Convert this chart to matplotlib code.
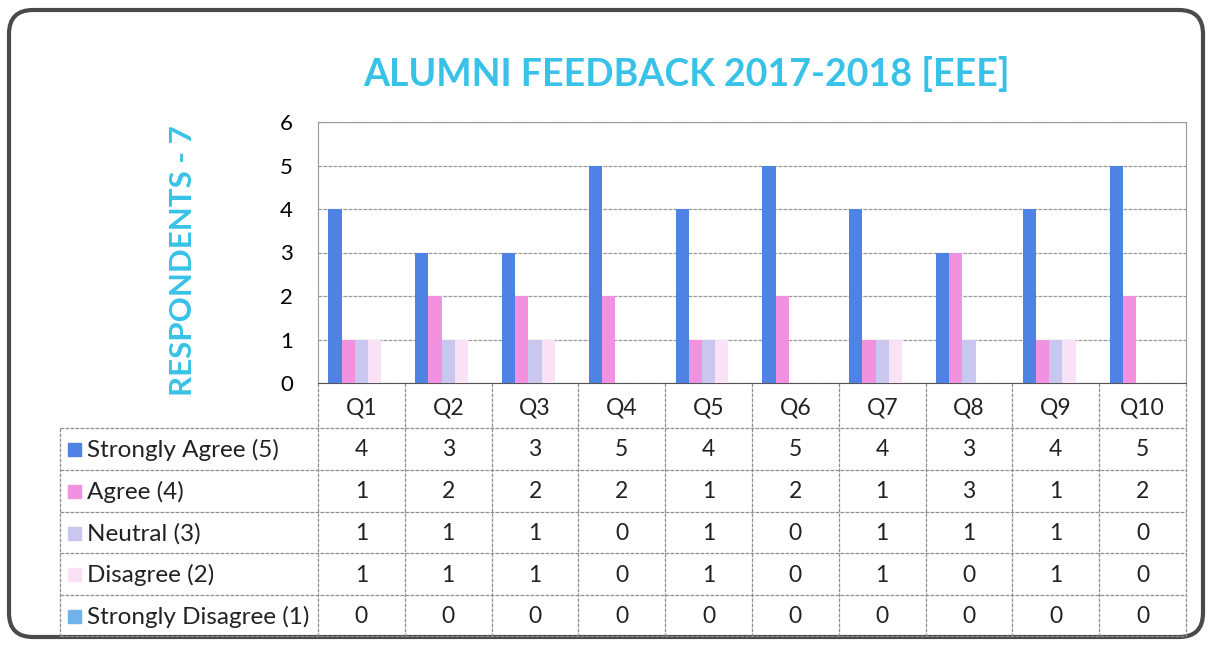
import matplotlib.pyplot as plt
from matplotlib.patches import FancyBboxPatch, Rectangle

plt.rcParams['font.family'] = ['Lato', 'DejaVu Sans']

questions = ['Q1', 'Q2', 'Q3', 'Q4', 'Q5', 'Q6', 'Q7', 'Q8', 'Q9', 'Q10']
series = ['Strongly Agree (5)', 'Agree (4)', 'Neutral (3)',
          'Disagree (2)', 'Strongly Disagree (1)']
strongly_agree = [4, 3, 3, 5, 4, 5, 4, 3, 4, 5]
agree = [1, 2, 2, 2, 1, 2, 1, 3, 1, 2]
neutral = [1, 1, 1, 0, 1, 0, 1, 1, 1, 0]
disagree = [1, 1, 1, 0, 1, 0, 1, 0, 1, 0]
strongly_disagree = [0, 0, 0, 0, 0, 0, 0, 0, 0, 0]
values = [strongly_agree, agree, neutral, disagree, strongly_disagree]
colors = ['#4f83e3', '#f291e0', '#c9c6f0', '#fae2f6', '#6fb2ec']

W, H = 1210, 645
fig = plt.figure(figsize=(W / 100, H / 100), dpi=100)

# overlay in pixel coordinates for frame, title and table
ov = fig.add_axes([0, 0, 1, 1])
ov.set_xlim(0, W)
ov.set_ylim(H, 0)
ov.axis('off')

ov.add_patch(FancyBboxPatch((9, 10), W - 16, H - 18,
                            boxstyle='round,pad=0,rounding_size=24',
                            fc='white', ec='#4a4a4a', lw=3))

cyan = '#38c2e8'
ov.text(687, 74, 'ALUMNI FEEDBACK 2017-2018 [EEE]', ha='center', va='center',
        fontsize=27, fontweight='bold', color=cyan)
ov.text(183, 261, 'RESPONDENTS - 7', ha='center', va='center', rotation=90,
        fontsize=22.5, fontweight='bold', color=cyan)

# chart
x0, x1, ytop, ybot = 318, 1186, 122, 383
ax = fig.add_axes([x0 / W, 1 - ybot / H, (x1 - x0) / W, (ybot - ytop) / H])
n = len(series)
bw = 0.152
for i, (vals, c) in enumerate(zip(values, colors)):
    pos = [q + (i - (n - 1) / 2) * bw for q in range(len(questions))]
    ax.bar(pos, vals, width=bw, color=c, zorder=3)
ax.set_xlim(-0.5, len(questions) - 0.5)
ax.set_ylim(0, 6)
ax.set_yticks(range(7))
ax.set_xticks([])
ax.tick_params(axis='y', length=0, labelsize=16, pad=18)
ax.grid(axis='y', color='#9a9a9a', lw=0.9, ls=(0, (3, 1)), zorder=0)
for s in ax.spines.values():
    s.set_color('#9a9a9a')
    s.set_linestyle((0, (3, 1)))
ax.spines['bottom'].set_color('#555555')
ax.spines['bottom'].set_linestyle('-')

# data table
tl = 60
cw = (x1 - x0) / len(questions)
rows_y = [383, 428, 470, 512, 553, 595, 636]
gc = '#8f8f8f'
gls = (0, (3, 1))
for k in range(len(questions) + 1):
    ov.plot([x0 + k * cw] * 2, [rows_y[0], rows_y[-1]], color=gc, lw=0.9, ls=gls)
ov.plot([tl, tl], [rows_y[1], rows_y[-1]], color=gc, lw=0.9, ls=gls)
for j, y in enumerate(rows_y[1:]):
    ov.plot([tl, x1], [y, y], color=gc, lw=0.9, ls=gls)
for k, q in enumerate(questions):
    ov.text(x0 + (k + 0.5) * cw, (rows_y[0] + rows_y[1]) / 2 + 2, q,
            ha='center', va='center', fontsize=16.5, color='#222222')
for j, (name, vals, c) in enumerate(zip(series, values, colors)):
    yc = (rows_y[j + 1] + rows_y[j + 2]) / 2
    ov.add_patch(Rectangle((68, yc - 6), 13, 13, color=c))
    ov.text(87, yc + 1, name, ha='left', va='center', fontsize=17.5,
            color='#222222')
    for k, v in enumerate(vals):
        ov.text(x0 + (k + 0.5) * cw, yc + 1, str(v), ha='center',
                va='center', fontsize=16.5, color='#222222')

fig.savefig('out.png', dpi=100)
